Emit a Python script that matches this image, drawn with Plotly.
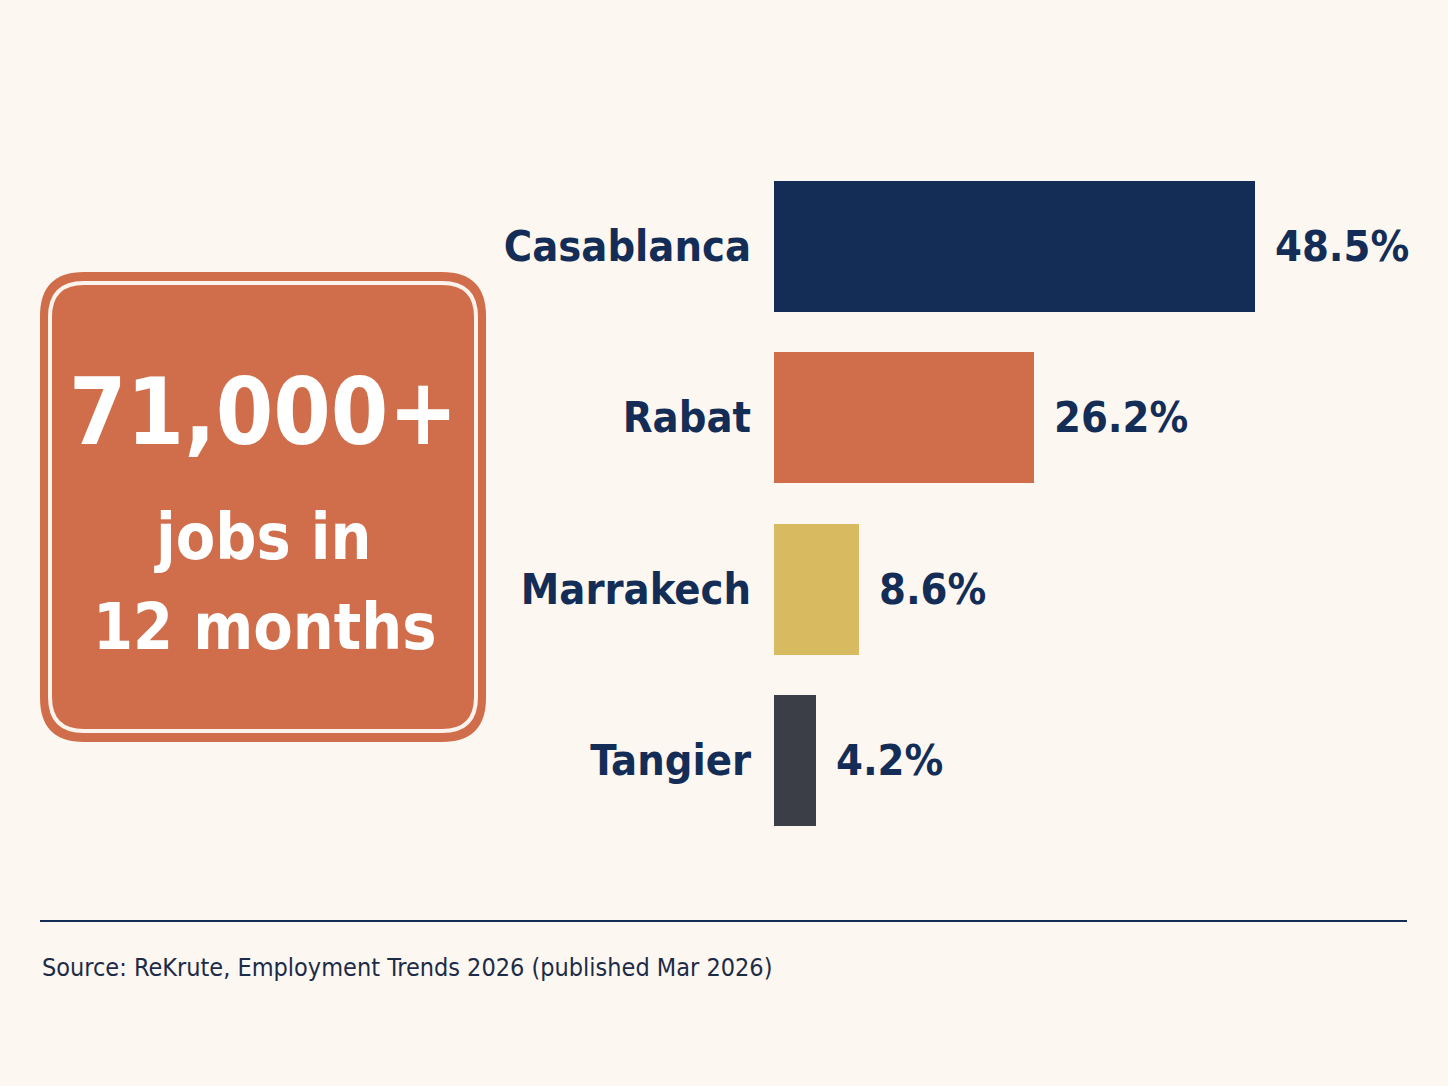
import plotly.graph_objects as go

# Share of job offers by city
cities = ["Casablanca", "Rabat", "Marrakech", "Tangier"]
shares = [48.5, 26.2, 8.6, 4.2]
bar_colors = ["#132D57", "#D06E4C", "#D8BA60", "#3B3E46"]
value_labels = ["48.5%", "26.2%", "8.6%", "4.2%"]

headline = "71,000+"
sub_lines = ["jobs in", "12 months"]
source_note = "Source: ReKrute, Employment Trends 2026 (published Mar 2026)"

W, H = 1448, 1086
BG = "#FCF8F1"
NAVY = "#132D57"
ORANGE = "#D06E4C"
FONT = "Liberation Sans Narrow, DejaVu Sans Condensed, Roboto Condensed, Roboto, sans-serif"


def px(x):
    return x / W


def py(y):
    return 1 - y / H


def rounded_rect(x0, y0, x1, y1, r):
    # path in paper coords, corners drawn with quadratic curves
    X0, X1 = px(x0), px(x1)
    Y0, Y1 = py(y0), py(y1)
    rx, ry = r / W, r / H
    return (f"M {X0 + rx} {Y0} L {X1 - rx} {Y0} Q {X1} {Y0} {X1} {Y0 - ry} "
            f"L {X1} {Y1 + ry} Q {X1} {Y1} {X1 - rx} {Y1} "
            f"L {X0 + rx} {Y1} Q {X0} {Y1} {X0} {Y1 + ry} "
            f"L {X0} {Y0 - ry} Q {X0} {Y0} {X0 + rx} {Y0} Z")


fig = go.Figure()
fig.add_trace(go.Bar(
    x=shares,
    y=cities,
    orientation="h",
    marker=dict(color=bar_colors, line=dict(width=0)),
    width=0.766,
    hoverinfo="skip",
))

# value labels next to each bar
annotations = []
for c, v, t in zip(cities, shares, value_labels):
    annotations.append(dict(
        x=v, y=c, xref="x", yref="y", text=t, showarrow=False,
        xanchor="left", yanchor="middle", xshift=18,
        font=dict(family=FONT, size=43, color=NAVY, weight="bold"),
    ))

# headline box text
annotations.append(dict(
    x=px(263), y=py(413), xref="paper", yref="paper", text=headline,
    showarrow=False, xanchor="center", yanchor="middle",
    font=dict(family=FONT, size=92, color="white", weight="bold"),
))
annotations.append(dict(
    x=px(263), y=py(537), xref="paper", yref="paper", text=sub_lines[0],
    showarrow=False, xanchor="center", yanchor="middle",
    font=dict(family=FONT, size=64, color="white", weight="bold"),
))
annotations.append(dict(
    x=px(265), y=py(627), xref="paper", yref="paper", text=sub_lines[1],
    showarrow=False, xanchor="center", yanchor="middle",
    font=dict(family=FONT, size=64, color="white", weight="bold"),
))
annotations.append(dict(
    x=px(40), y=py(967), xref="paper", yref="paper", text=source_note,
    showarrow=False, xanchor="left", yanchor="middle",
    font=dict(family=FONT, size=25, color="#1C2B48"),
))

shapes = [
    dict(type="path", xref="paper", yref="paper",
         path=rounded_rect(40, 272, 486, 742, 44),
         fillcolor=ORANGE, line=dict(width=0), layer="below"),
    dict(type="path", xref="paper", yref="paper",
         path=rounded_rect(50, 283, 476, 731, 34),
         fillcolor="rgba(0,0,0,0)", line=dict(color="#FCF3EC", width=4)),
    dict(type="line", xref="paper", yref="paper",
         x0=px(40), x1=px(1407), y0=py(921), y1=py(921),
         line=dict(color=NAVY, width=2)),
]

fig.update_layout(
    width=W, height=H,
    paper_bgcolor=BG, plot_bgcolor=BG,
    margin=dict(l=0, r=0, t=0, b=0),
    showlegend=False,
    bargap=0,
    xaxis=dict(domain=[px(774), 1.0], range=[0, 68], visible=False, fixedrange=True),
    yaxis=dict(
        domain=[py(845.5), py(160.5)],
        categoryorder="array", categoryarray=cities[::-1],
        range=[-0.5, 3.5],
        showgrid=False, zeroline=False, showline=False, ticks="",
        ticklabelstandoff=22,
        tickfont=dict(family=FONT, size=43, color=NAVY, weight="bold"),
        fixedrange=True,
    ),
    annotations=annotations,
    shapes=shapes,
)

# drop the default page margin so the figure fills the window
fig.write_html(
    "out.html",
    config={"displayModeBar": False},
    post_script="document.body.style.margin='0';document.body.style.background='#FCF8F1';",
)
